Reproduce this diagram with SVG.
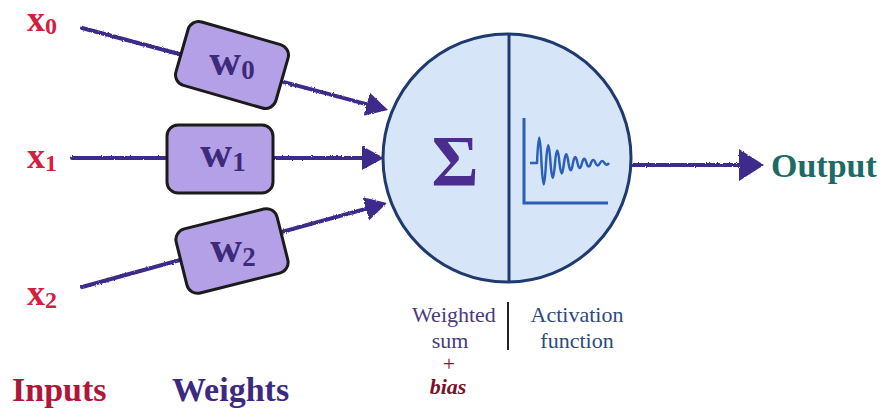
<svg xmlns="http://www.w3.org/2000/svg" width="886" height="414" viewBox="0 0 886 414">
<style>
.conn{stroke:#3d2a8a;stroke-width:4;fill:none;stroke-linecap:round}
.wbox{fill:#b3a0e6;stroke:#1b1b1b;stroke-width:3}
.wtxt{font-family:"Liberation Serif",serif;font-weight:bold;fill:#3d2a7a;font-size:44px}
.wsub{font-size:27px}
.xtxt{font-family:"Liberation Serif",serif;font-weight:bold;fill:#d4203f;font-size:36px}
.sub{font-size:24px}
.lbl{font-family:"Liberation Serif",serif;font-size:22px}
.big{font-family:"Liberation Serif",serif;font-weight:bold;font-size:34px}
</style>
<defs>
<filter id="rough" x="-5%" y="-20%" width="110%" height="140%">
<feTurbulence type="fractalNoise" baseFrequency="0.9" numOctaves="2" seed="3"/>
<feDisplacementMap in="SourceGraphic" scale="2.5" xChannelSelector="R" yChannelSelector="G"/>
</filter>
<marker id="ah" markerUnits="userSpaceOnUse" markerWidth="24" markerHeight="26" refX="14" refY="12" orient="auto">
<path d="M0,0 L22,12 L0,24 Z" fill="#3d2a8a"/>
</marker>
<marker id="ahbig" markerUnits="userSpaceOnUse" markerWidth="28" markerHeight="34" refX="17" refY="16" orient="auto">
<path d="M0,0 L25,16 L0,32 Z" fill="#3d2a8a"/>
</marker>
</defs>
<rect width="886" height="414" fill="#ffffff"/>

<g id="connectors" filter="url(#rough)">
<line class="conn" x1="82" y1="28" x2="380.3" y2="107.9" marker-end="url(#ah)"/>
<line class="conn" x1="72" y1="158" x2="376" y2="158" marker-end="url(#ah)"/>
<line class="conn" x1="82" y1="287" x2="379.3" y2="205.1" marker-end="url(#ah)"/>
<line class="conn" x1="630" y1="165" x2="756" y2="165" marker-end="url(#ahbig)"/>
</g>

<g id="x0"><text class="xtxt" x="27" y="31">x<tspan class="sub" dy="3">0</tspan></text></g>
<g id="x1"><text class="xtxt" x="27" y="168">x<tspan class="sub" dy="3">1</tspan></text></g>
<g id="x2"><text class="xtxt" x="27" y="305">x<tspan class="sub" dy="3">2</tspan></text></g>

<g id="w0">
<rect class="wbox" x="-52" y="-33" width="104" height="66" rx="11" transform="translate(232,65) rotate(16)"/>
<text class="wtxt" x="232" y="75" text-anchor="middle">w<tspan class="wsub" dy="4">0</tspan></text>
</g>
<g id="w1">
<rect class="wbox" x="167" y="125" width="106" height="68" rx="11"/>
<text class="wtxt" x="223" y="167" text-anchor="middle">w<tspan class="wsub" dy="4">1</tspan></text>
</g>
<g id="w2">
<rect class="wbox" x="-52" y="-33" width="104" height="66" rx="11" transform="translate(232,251) rotate(-14)"/>
<text class="wtxt" x="233" y="262" text-anchor="middle">w<tspan class="wsub" dy="4">2</tspan></text>
</g>

<g id="neuron">
<circle cx="507" cy="158" r="124" fill="#d7e5f8" stroke="#1f3a6e" stroke-width="3"/>
<line x1="509" y1="34" x2="509" y2="282" stroke="#1f3a6e" stroke-width="3"/>
<text x="455" y="185" text-anchor="middle" font-family="Liberation Serif, serif" font-weight="bold" font-size="72px" fill="#4b2d8f">Σ</text>
<path d="M524,118 V203 H608" fill="none" stroke="#2b5fb8" stroke-width="3"/>
<path d="M530,163 H537 C538.5,128.9 540,128.9 541.5,163 C543,191.5 544.5,191.5 546,163 C547.5,139.3 549,139.3 550.5,163 C552,182.9 553.5,182.9 555,163 C556.5,146.3 558,146.3 559.5,163 C561,176.9 562.5,176.9 564,163 C565.5,151.4 567,151.4 568.5,163 C570,172.7 571.5,172.7 573,163 C574.5,154.9 576,154.9 577.5,163 C579,169.8 580.5,169.8 582,163 C583.5,157.4 585,157.4 586.5,163 C588,167.7 589.5,167.7 591,163 C592.5,159.1 594,159.1 595.5,163 C597,166.3 598.5,166.3 600,163 C601.5,160.2 603,160.2 604.5,163 C606,165.3 607.5,165.3 609,163" fill="none" stroke="#2b5fb8" stroke-width="2.5" stroke-linejoin="round"/>
</g>

<g id="output"><text class="big" x="771" y="177" fill="#1d6b66">Output</text></g>

<g id="sum-label">
<text class="lbl" x="454" y="322" text-anchor="middle" fill="#4a3a82">Weighted</text>
<text class="lbl" x="450" y="348" text-anchor="middle" fill="#4a3a82">sum</text>
<text class="lbl" x="449" y="371" text-anchor="middle" fill="#8a1a30" font-size="16px">+</text>
<text class="lbl" x="448" y="394" text-anchor="middle" fill="#7a1028" font-weight="bold" font-style="italic" font-size="21px">bias</text>
</g>
<line x1="508" y1="302" x2="508" y2="350" stroke="#222" stroke-width="2"/>
<g id="activation-label">
<text class="lbl" x="577" y="322" text-anchor="middle" fill="#2c4a80">Activation</text>
<text class="lbl" x="577" y="348" text-anchor="middle" fill="#2c4a80">function</text>
</g>

<g id="inputs-label"><text class="big" x="12" y="401" fill="#b0163a">Inputs</text></g>
<g id="weights-label"><text class="big" x="172" y="401" fill="#3d2a80">Weights</text></g>
</svg>
